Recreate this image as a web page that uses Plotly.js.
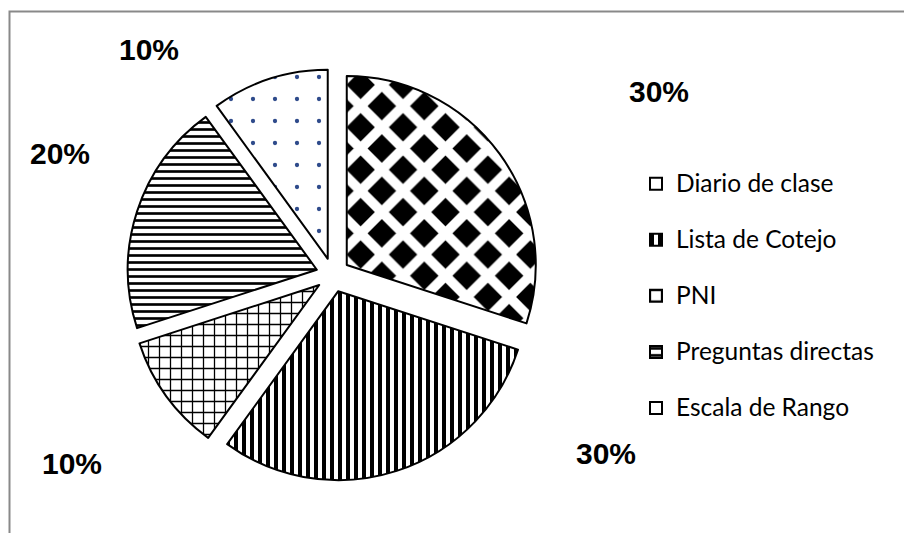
<!DOCTYPE html>
<html>
<head>
<meta charset="utf-8">
<script src="https://cdn.plot.ly/plotly-3.0.1.min.js"></script>
<style>
html,body{margin:0;padding:0;background:#ffffff;}
#chart{width:904px;height:533px;}
</style>
</head>
<body>
<div id="chart"></div>
<script>
// ---- data ----
const categories = ['Diario de clase', 'Lista de Cotejo', 'PNI', 'Preguntas directas', 'Escala de Rango'];
const values = [30, 30, 10, 20, 10];

// ---- styling (kept separate from data) ----
const patternShapes = ['x', '|', '+', '-', '.'];
const patternFg = ['#ffffff', '#000000', '#000000', '#000000', '#2e4a8b'];
const patternBg = ['#000000', '#ffffff', '#ffffff', '#ffffff', '#ffffff'];
const patternSize = [30, 8, 11, 7, 22];
const patternSolidity = [0.55, 0.5, 0.22, 0.38, 0.03];
// pixel centres of the percentage labels (hand placed in the original)
const labelPx = [[659, 92], [606, 453], [72, 463], [60, 153], [149, 50]];

const W = 904, H = 533;
const total = values.reduce((a, b) => a + b, 0);
const pctText = values.map(v => Math.round(v / total * 100) + '%');

const legendText = categories.map(c => '<span style="font-size:24.5px">' + c + '</span><br> ');

const trace = {
  type: 'pie',
  labels: legendText,
  values: values,
  sort: false,
  direction: 'clockwise',
  rotation: 0,
  pull: 0.09,
  textinfo: 'none',
  hoverinfo: 'none',
  domain: {x: [127 / W, 539 / W], y: [1 - 481 / H, 1 - 69 / H]},
  marker: {
    colors: patternBg,
    line: {color: '#000000', width: 2},
    pattern: {
      shape: patternShapes,
      fgcolor: patternFg,
      bgcolor: patternBg,
      size: patternSize,
      solidity: patternSolidity,
      fillmode: 'replace'
    }
  }
};

const annotations = pctText.map((t, i) => ({
  text: t,
  xref: 'paper', yref: 'paper',
  x: labelPx[i][0] / W, y: 1 - labelPx[i][1] / H,
  xanchor: 'center', yanchor: 'middle',
  showarrow: false,
  font: {family: 'Liberation Sans, Arial, sans-serif', size: 30, color: '#000000', weight: 'bold'}
}));

const layout = {
  width: W, height: H,
  margin: {l: 0, r: 0, t: 0, b: 0},
  paper_bgcolor: '#ffffff',
  showlegend: true,
  legend: {
    x: 636 / W, xanchor: 'left',
    y: 1 - 164 / H, yanchor: 'top',
    valign: 'top',
    font: {family: 'Lato, Calibri, sans-serif', size: 20.4, color: '#000000'},
    bgcolor: 'rgba(0,0,0,0)'
  },
  annotations: annotations,
  shapes: [{
    type: 'rect', xref: 'paper', yref: 'paper',
    x0: 9.5 / W, x1: 1.05, y0: -0.05, y1: 1 - 11.5 / H,
    line: {color: '#898989', width: 2}, fillcolor: 'rgba(0,0,0,0)', layer: 'below'
  }]
};

Plotly.newPlot('chart', [trace], layout, {displayModeBar: false, staticPlot: true});
</script>
</body>
</html>
